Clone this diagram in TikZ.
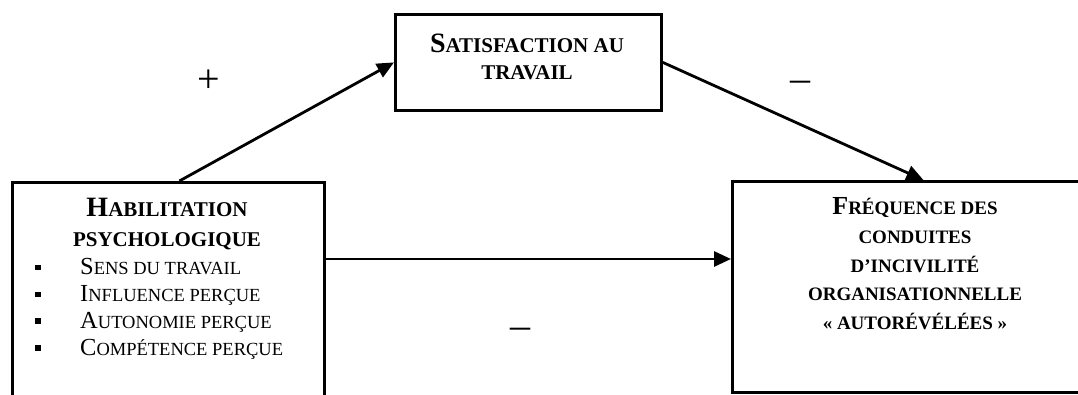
\documentclass[tikz,border=0pt]{standalone}
\usepackage{fontspec}
\setmainfont{Liberation Serif}
\usetikzlibrary{arrows.meta}
% a larger initial, for words set in small capitals
\newcommand\ini[2]{{\fontsize{#1}{#1}\selectfont #2}}
% square list bullet followed by the indent of the item text
\newcommand\bul{\makebox[45pt][l]{\raisebox{4.5pt}{\rule{5.5pt}{5.5pt}}}}
\begin{document}
\begin{tikzpicture}[x=1pt,y=-1pt,
  box/.style={draw, rectangle, line width=2.8pt, anchor=north west, inner sep=0pt},
  title/.style={align=center, anchor=base, inner sep=0pt, font=\bfseries\fontsize{21}{28}\selectfont},
  arr/.style={line width=2.8pt, -{Triangle[length=17pt,width=15pt]}},
  sign/.style={anchor=base, inner sep=0pt, font=\fontsize{40}{40}\selectfont}]
\useasboundingbox (0,0) rectangle (1078,395);
\clip (0,0) rectangle (1078,395);

% the three boxes
\node[box, minimum width=312pt, minimum height=225pt] (hab) at (11,181) {};
\node[box, minimum width=266pt, minimum height=96pt] (sat) at (394,13) {};
\node[box, minimum width=382pt, minimum height=211pt] (freq) at (731,180) {};

% box texts (each node's base is the baseline of its last line)
\node[title, font=\bfseries\fontsize{21}{30}\selectfont] (habt) at (167,246.7)
  {\ini{28}{H}ABILITATION\\PSYCHOLOGIQUE};
\node[anchor=base west, align=left, inner sep=0pt,
      font=\fontsize{18.5}{26.7}\selectfont] (habl) at (35,355)
  {\bul\ini{24.5}{S}ENS DU TRAVAIL\\
   \bul\ini{24.5}{I}NFLUENCE PERÇUE\\
   \bul\ini{24.5}{A}UTONOMIE PERÇUE\\
   \bul\ini{24.5}{C}OMPÉTENCE PERÇUE};
\node[title, font=\bfseries\fontsize{21}{27}\selectfont] (satt) at (527,80)
  {\ini{28}{S}ATISFACTION AU\\TRAVAIL};
\node[title, font=\bfseries\fontsize{19}{28.6}\selectfont] (freqt) at (915,329.3)
  {\ini{26}{F}RÉQUENCE DES\\CONDUITES\\D’INCIVILITÉ\\ORGANISATIONNELLE\\« AUTORÉVÉLÉES »};

% paths between the boxes
\draw[arr] ([xshift=11pt]hab.north) -- (sat.west);
\draw[arr] (sat.east) -- (freq.north);
\draw[arr] ([yshift=-78pt]hab.north east) -- ([yshift=-78pt]hab.north east -| freq.west);

% signs of the effects
\node[sign] (plus) at (209,93) {+};
\node[sign] (minA) at (800,92) {–};
\node[sign] (minB) at (520,338) {–};
\end{tikzpicture}
\end{document}
